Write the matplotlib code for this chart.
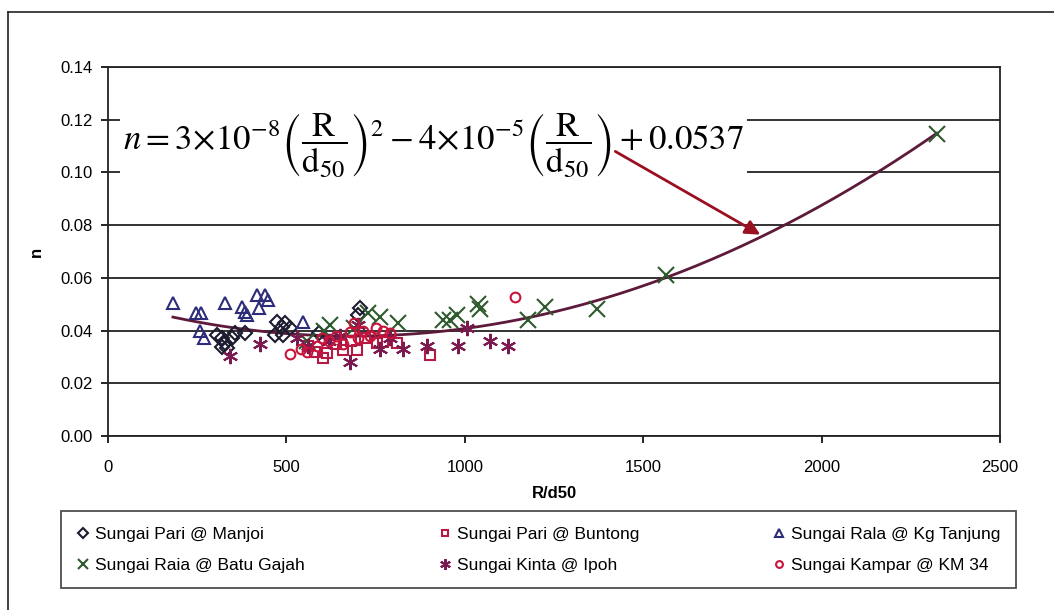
import numpy as np
import matplotlib.pyplot as plt
from matplotlib.lines import Line2D

plt.rcParams["font.family"] = ["Liberation Sans", "DejaVu Sans"]
plt.rcParams["mathtext.fontset"] = "stix"

# Manning's n against relative roughness R/d50 for six river reaches
manjoi_x = [305, 320, 328, 334, 320, 348, 356, 384, 474, 488, 496, 468, 490, 510, 590, 706, 700]
manjoi_n = [0.0383, 0.0372, 0.0353, 0.0334, 0.0338, 0.0372, 0.0390, 0.0390, 0.0433, 0.0414,
            0.0429, 0.0383, 0.0383, 0.0410, 0.0390, 0.0486, 0.0460]

buntong_x = [603, 614, 659, 698, 754, 771, 810, 902, 560, 640, 580, 720, 680]
buntong_n = [0.0296, 0.0315, 0.0326, 0.0326, 0.0353, 0.0357, 0.0353, 0.0307, 0.0340,
             0.0350, 0.0320, 0.0370, 0.0360]

tanjung_x = [182, 247, 261, 328, 376, 384, 389, 418, 440, 449, 423, 258, 547, 270]
tanjung_n = [0.0505, 0.0467, 0.0467, 0.0505, 0.0490, 0.0470, 0.0460, 0.0535, 0.0535,
             0.0516, 0.0486, 0.0400, 0.0433, 0.0370]

batugajah_x = [558, 605, 622, 690, 729, 762, 813, 939, 958, 978, 1037, 1043, 1177, 1225,
               1370, 1564, 2323]
batugajah_n = [0.0360, 0.0400, 0.0420, 0.0410, 0.0467, 0.0450, 0.0430, 0.0440, 0.0440,
               0.0460, 0.0500, 0.0480, 0.0440, 0.0490, 0.0480, 0.0610, 0.1145]

kinta_x = [342, 426, 530, 560, 620, 650, 678, 700, 762, 790, 827, 895, 981, 1006, 1071, 1121]
kinta_n = [0.0305, 0.0350, 0.0370, 0.0340, 0.0360, 0.0380, 0.0280, 0.0420, 0.0330, 0.0370,
           0.0330, 0.0340, 0.0340, 0.0410, 0.0360, 0.0340]

kampar_x = [510, 540, 558, 585, 620, 640, 660, 678, 700, 715, 735, 750, 771, 790, 1141, 600, 690]
kampar_n = [0.0310, 0.0330, 0.0320, 0.0340, 0.0360, 0.0380, 0.0350, 0.0395, 0.0370, 0.0400,
            0.0380, 0.0410, 0.0400, 0.0390, 0.0528, 0.0370, 0.0430]

x_ticks = [0, 500, 1000, 1500, 2000, 2500]
y_ticks = [0.00, 0.02, 0.04, 0.06, 0.08, 0.10, 0.12, 0.14]

fig = plt.figure(figsize=(10.54, 6.10), dpi=100)
ax = fig.add_axes([108 / 1054, 1 - 436 / 610, 892 / 1054, 369 / 610])

# Outer chart frame
fig.add_artist(Line2D([8 / 1054, 8 / 1054], [1 - 12 / 610, 0], color="#222222", lw=1.2))
fig.add_artist(Line2D([8 / 1054, 1], [1 - 12 / 610, 1 - 12 / 610], color="#222222", lw=1.2))

ax.set_xlim(0, 2500)
ax.set_ylim(0, 0.14)
ax.set_xticks(x_ticks)
ax.set_yticks(y_ticks)
ax.set_yticklabels([f"{v:.2f}" for v in y_ticks])
ax.grid(axis="y", color="#222222", lw=1.3)
ax.set_axisbelow(True)
for s in ax.spines.values():
    s.set_color("#222222")
    s.set_linewidth(1.3)
ax.tick_params(direction="out", length=5, width=1.2, labelsize=12, pad=6)
ax.tick_params(axis="x", pad=12)
ax.set_xlabel("R/d50", fontsize=12, fontweight="bold", labelpad=8)
ax.set_ylabel("n", fontsize=12, fontweight="bold", labelpad=12)

ms = 8
h_manjoi, = ax.plot(manjoi_x, manjoi_n, "D", ms=ms - 1, mfc="none", mec="#1c1c30", mew=1.5,
                    ls="none", label="Sungai Pari @ Manjoi")
h_buntong, = ax.plot(buntong_x, buntong_n, "s", ms=ms - 1, mfc="none", mec="#b81844", mew=1.5,
                     ls="none", label="Sungai Pari @ Buntong")
h_tanjung, = ax.plot(tanjung_x, tanjung_n, "^", ms=ms, mfc="none", mec="#2c2c7a", mew=1.5,
                     ls="none", label="Sungai Rala @ Kg Tanjung")
h_batu, = ax.plot(batugajah_x, batugajah_n, "x", ms=ms + 3, mec="#2e5a2e", mew=1.5,
                  ls="none", label="Sungai Raia @ Batu Gajah")
h_kinta, = ax.plot(kinta_x, kinta_n, marker=(6, 2, 0), ms=ms + 3, mec="#7a1a50", mew=1.5,
                   ls="none", label="Sungai Kinta @ Ipoh")
h_kampar, = ax.plot(kampar_x, kampar_n, "o", ms=ms - 1, mfc="none", mec="#c8143a", mew=1.5,
                    ls="none", label="Sungai Kampar @ KM 34")

# Second order trendline through all reaches
all_x = np.concatenate([manjoi_x, buntong_x, tanjung_x, batugajah_x, kinta_x, kampar_x])
all_n = np.concatenate([manjoi_n, buntong_n, tanjung_n, batugajah_n, kinta_n, kampar_n])
coef = np.polyfit(all_x, all_n, 2)
xs = np.linspace(all_x.min(), all_x.max(), 300)
ax.plot(xs, np.polyval(coef, xs), color="#5e1a3a", lw=2, zorder=1.5)

eq = (r"$n = 3\!\times\!10^{-8}\left(\dfrac{\mathrm{R}}{\mathrm{d}_{50}}\right)^{2}"
      r" - 4\!\times\!10^{-5}\left(\dfrac{\mathrm{R}}{\mathrm{d}_{50}}\right) + 0.0537$")
ax.text(912, 0.1105, eq, fontsize=25, ha="center", va="center", zorder=3,
        bbox=dict(facecolor="white", edgecolor="none", pad=2))

x_arrow = 1835
ax.annotate("", xy=(x_arrow, np.polyval(coef, x_arrow)), xytext=(1415, 0.1085),
            arrowprops=dict(arrowstyle="-|>", color="#9a1020", lw=2, mutation_scale=22),
            zorder=4)

handles = [h_manjoi, h_batu, h_buntong, h_kinta, h_tanjung, h_kampar]
leg = fig.legend(handles=handles, loc="lower left",
                 bbox_to_anchor=(52 / 1054, 1 - 597 / 610, 973 / 1054, 80 / 610),
                 mode="expand", ncol=3, fontsize=12.5, markerscale=0.7, handlelength=0.8,
                 handletextpad=0.3, frameon=True, fancybox=False, edgecolor="#222222",
                 borderpad=0.9, labelspacing=0.9)
leg.get_frame().set_linewidth(1.3)

fig.savefig("out.png", dpi=100)
